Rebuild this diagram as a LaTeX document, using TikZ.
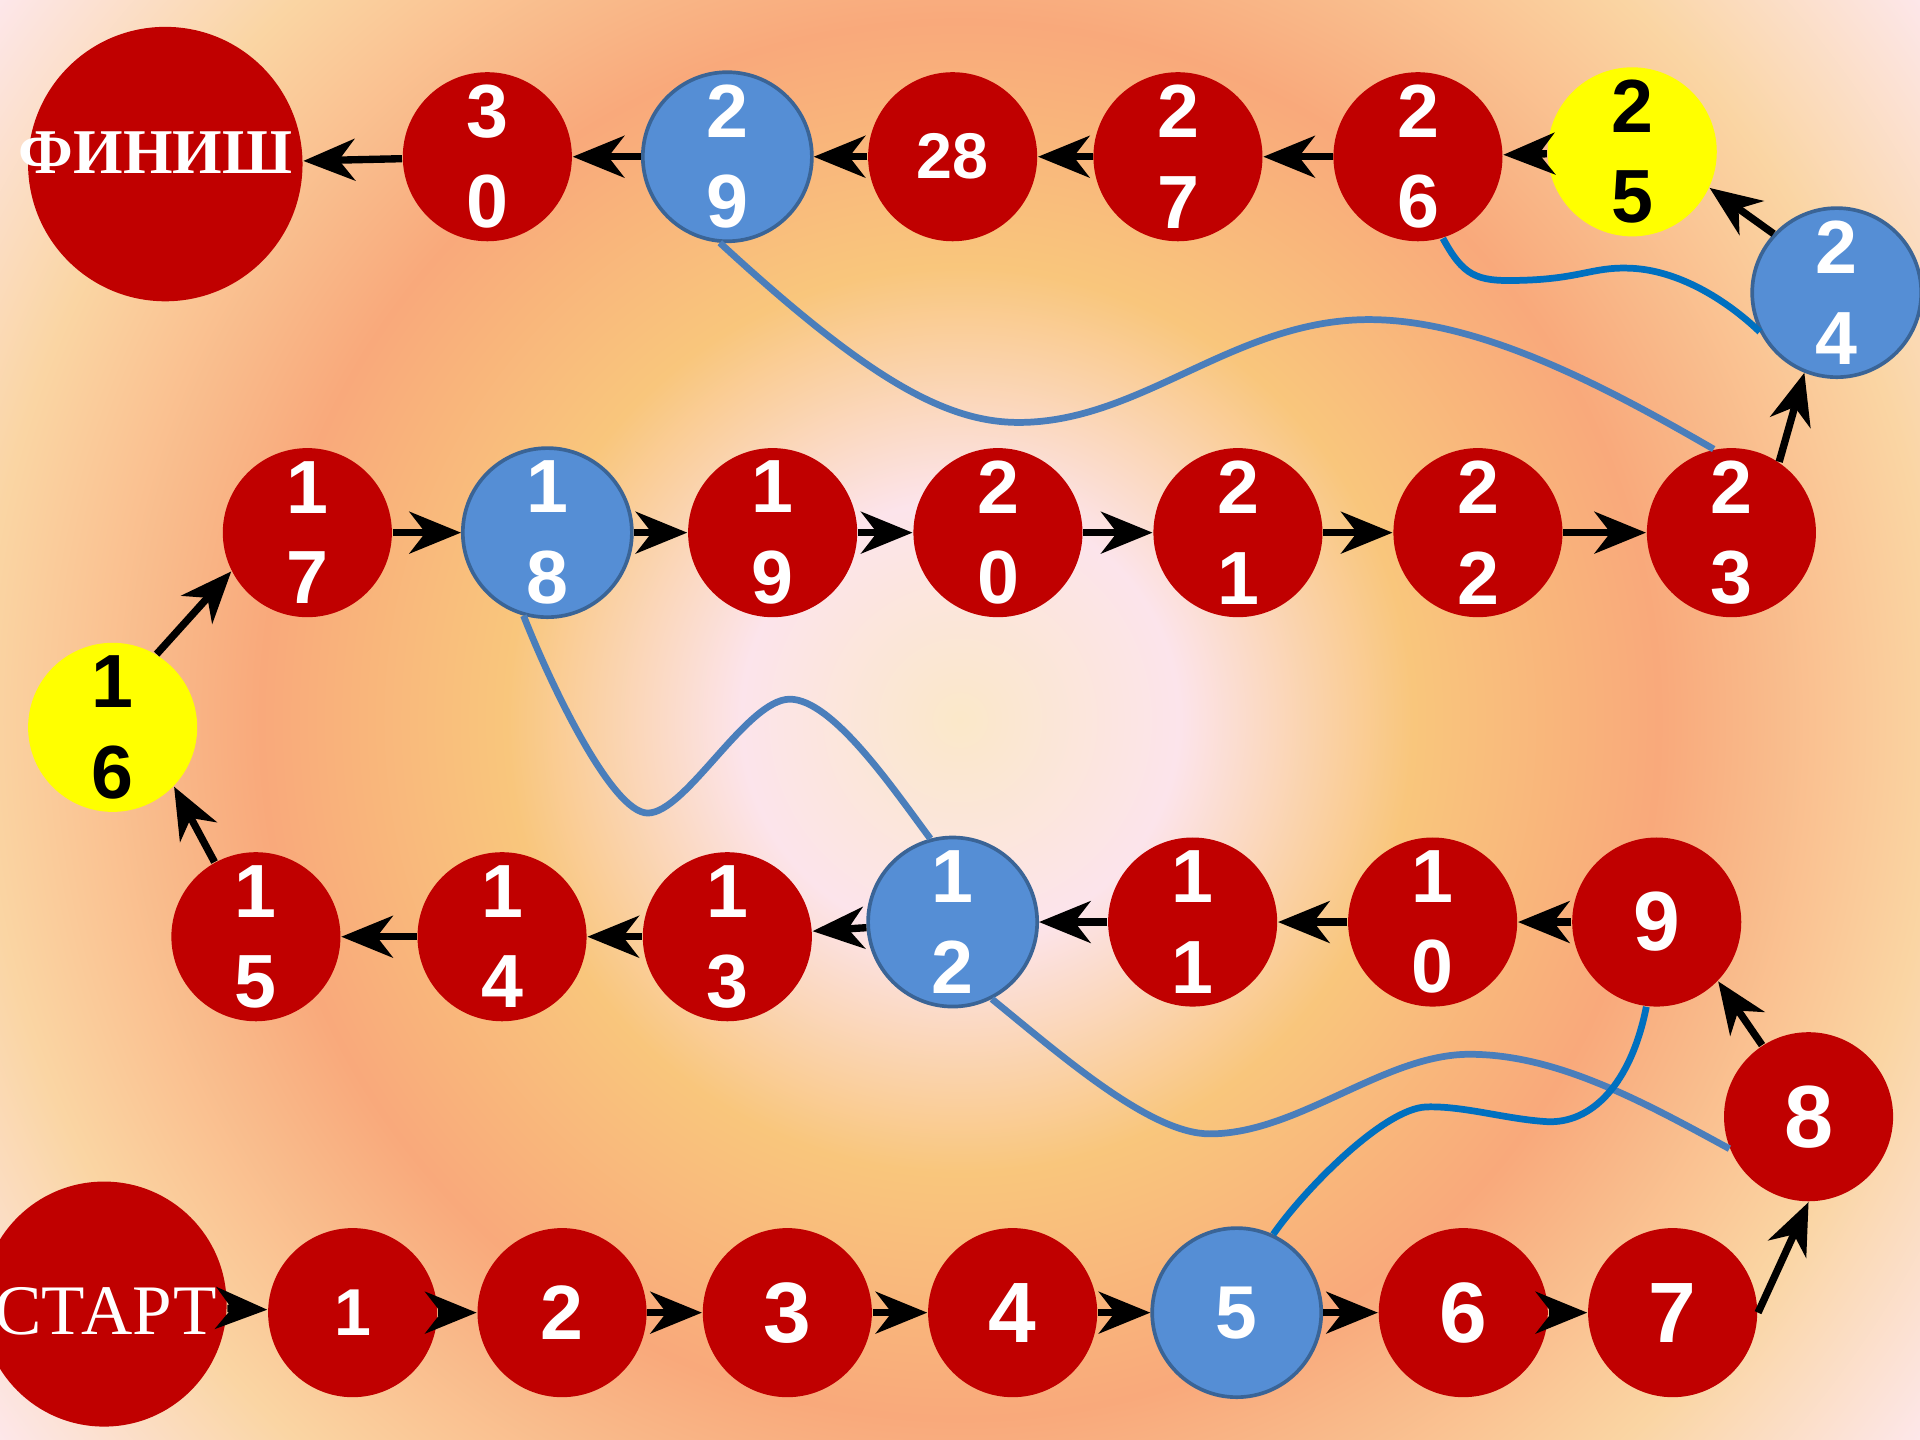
\documentclass[tikz,border=0pt]{standalone}
\usepackage{fontspec}
\newfontfamily\numfont{Liberation Sans}
\newfontfamily\serfont{Liberation Serif}
\usetikzlibrary{arrows.meta}
\definecolor{cred}{HTML}{C00000}
\definecolor{cblue}{HTML}{558ED5}
\definecolor{cbluedk}{HTML}{3A6496}
\definecolor{csteel}{HTML}{4A7EBB}
\definecolor{cbright}{HTML}{0070C0}
\definecolor{cyel}{HTML}{FFFF00}
\definecolor{bgA}{HTML}{FBE8C9}
\definecolor{bgB}{HTML}{FCE4EB}
\definecolor{bgC}{HTML}{F9C67C}
\definecolor{bgD}{HTML}{F9A97B}
\definecolor{bgE}{HTML}{FAD5A3}
\definecolor{bgF}{HTML}{FDE8EE}
\pgfdeclareradialshading{bgshade}{\pgfpoint{0bp}{0bp}}{color(0bp)=(bgA); color(5.7bp)=(bgB); color(11.8bp)=(bgC); color(18.2bp)=(bgD); color(25.5bp)=(bgE); color(31.6bp)=(bgF); color(50bp)=(bgF)}
\begin{document}
\begin{tikzpicture}[x=0.01cm,y=-0.01cm,
  base/.style={circle,minimum size=1.38cm,inner sep=0pt,align=center},
  rednode/.style={base,fill=cred,text=white,font=\numfont\bfseries\fontsize{#1}{21}\selectfont},
  rednode/.default=17.5,
  bluenode/.style={base,fill=cblue,draw=cbluedk,line width=0.03cm,text=white,font=\numfont\bfseries\fontsize{#1}{21}\selectfont},
  bluenode/.default=17.5,
  yelnode/.style={base,fill=cyel,text=black,font=\numfont\bfseries\fontsize{#1}{21}\selectfont},
  yelnode/.default=17.5,
  arr/.style={line width=0.06cm,-{Stealth[length=0.42cm,width=0.34cm,inset=0.13cm]}},
  snakeA/.style={line width=0.055cm,draw=csteel},
  snakeB/.style={line width=0.055cm,draw=cbright}]
\useasboundingbox (0,0) rectangle (1568,1176);
\begin{scope}
\clip (0,0) rectangle (1568,1176);
\shade[shading=bgshade] (0,-196) rectangle (1568,1372);
\end{scope}
% start / finish
\node[circle,fill=cred,minimum size=2cm] (start) at (85,1065) {};
\node[text=white,font=\serfont\fontsize{16.5}{18}\selectfont,inner sep=0pt] (starttext) at (86,1071) {СТАРТ};
\node[circle,fill=cred,minimum size=2.24cm] (fin) at (135,134) {};
\node[text=white,font=\serfont\bfseries\fontsize{14.8}{16}\selectfont,inner sep=0pt] (fintext) at (127,125) {ФИНИШ};
% bottom row
\node[rednode=15.4] (n1) at (288,1072) {1};
\node[rednode=17.9] (n2) at (459,1072) {2};
\node[rednode=19.9] (n3) at (643,1072) {3};
\node[rednode=19.9] (n4) at (827,1072) {4};
\node[bluenode=17.4] (n5) at (1010,1072) {5};
\node[rednode=19.9] (n6) at (1195,1072) {6};
\node[rednode=19.9] (n7) at (1366,1072) {7};
\node[rednode=20.5] (n8) at (1477,912) {8};
% second row
\node[rednode=19.5] (n9) at (1353,753) {9};
\node[rednode] (n10) at (1170,753) {1\\0};
\node[rednode] (n11) at (974,753) {1\\1};
\node[bluenode] (n12) at (778,753) {1\\2};
\node[rednode] (n13) at (594,765) {1\\3};
\node[rednode] (n14) at (410,765) {1\\4};
\node[rednode] (n15) at (209,765) {1\\5};
\node[yelnode] (n16) at (92,594) {1\\6};
% third row
\node[rednode] (n17) at (251,435) {1\\7};
\node[bluenode] (n18) at (447,435) {1\\8};
\node[rednode] (n19) at (631,435) {1\\9};
\node[rednode] (n20) at (815,435) {2\\0};
\node[rednode] (n21) at (1011,435) {2\\1};
\node[rednode] (n22) at (1207,435) {2\\2};
\node[rednode] (n23) at (1414,435) {2\\3};
\node[bluenode] (n24) at (1500,239) {2\\4};
% top row
\node[yelnode] (n25) at (1333,124) {2\\5};
\node[rednode] (n26) at (1158,128) {2\\6};
\node[rednode] (n27) at (962,128) {2\\7};
\node[rednode=15] (n28) at (778,128) {28};
\node[bluenode] (n29) at (594,128) {2\\9};
\node[rednode] (n30) at (398,128) {3\\0};
% snakes
\draw[snakeA] (n29.-95) .. controls (708,309) and (772,345) .. (832,345) .. controls (932,345) and (1008,261) .. (1118,261) .. controls (1208,261) and (1310,315) .. (n23.102);
\draw[snakeB] (n26.-73) .. controls (1195,225) and (1205,230) .. (1240,229) .. controls (1290,228) and (1300,218) .. (1330,219) .. controls (1370,220) and (1410,245) .. (n24.207);
\draw[snakeA] (n18.-106) .. controls (450,560) and (500,664) .. (529,664) .. controls (560,664) and (610,571) .. (645,571) .. controls (680,571) and (730,645) .. (n12.105);
\draw[snakeA] (n12.-63) .. controls (869,864) and (940,926) .. (988,926) .. controls (1060,926) and (1130,861) .. (1200,861) .. controls (1270,861) and (1339,898) .. (n8.202);
\draw[snakeB] (n9.-97) .. controls (1332,885) and (1300,918) .. (1263,916) .. controls (1230,914) and (1195,903) .. (1165,904) .. controls (1130,905) and (1064,973) .. (n5.65);
% arrows
\draw[arr] (start) -- (n1);
\draw[arr] (n1) -- (n2);
\draw[arr] (n2) -- (n3);
\draw[arr] (n3) -- (n4);
\draw[arr] (n4) -- (n5);
\draw[arr] (n5) -- (n6);
\draw[arr] (n6) -- (n7);
\draw[arr] (n7.east) -- (n8.south);
\draw[arr] (n8.123) -- (n9.-44);
\draw[arr] (n9) -- (n10);
\draw[arr] (n10) -- (n11);
\draw[arr] (n11) -- (n12);
\draw[arr] (n12) -- (n13);
\draw[arr] (n13) -- (n14);
\draw[arr] (n14) -- (n15);
\draw[arr] (n15.119) -- (n16.-44);
\draw[arr] (n16.59) -- (n17.207);
\draw[arr] (n17) -- (n18);
\draw[arr] (n18) -- (n19);
\draw[arr] (n19) -- (n20);
\draw[arr] (n20) -- (n21);
\draw[arr] (n21) -- (n22);
\draw[arr] (n22) -- (n23);
\draw[arr] (n23.56) -- (n24.248);
\draw[arr] (n24.137) -- (n25.-25);
\draw[arr] (n25) -- (n26);
\draw[arr] (n26) -- (n27);
\draw[arr] (n27) -- (n28);
\draw[arr] (n28) -- (n29);
\draw[arr] (n29) -- (n30);
\draw[arr] (n30) -- (fin);
\end{tikzpicture}
\end{document}
